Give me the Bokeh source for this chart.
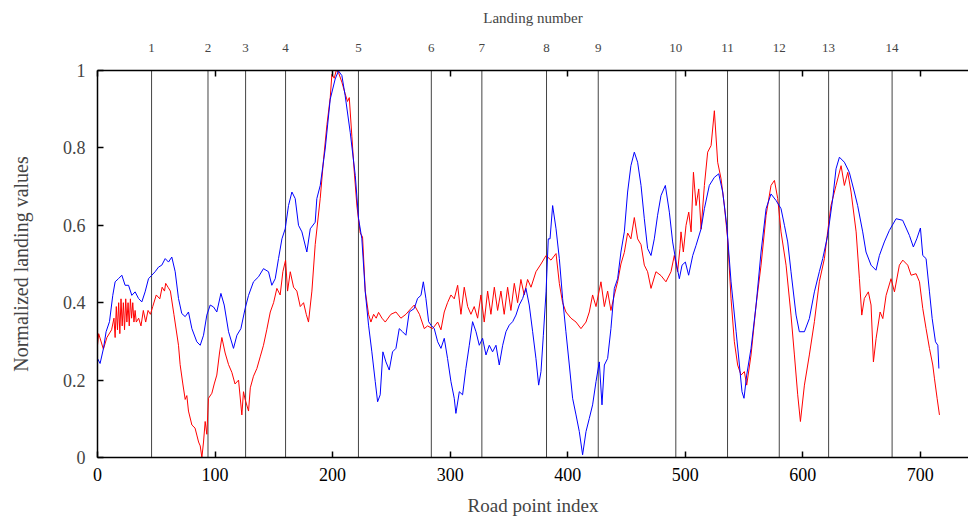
from bokeh.plotting import figure
from bokeh.models import Range1d, LinearAxis, FixedTicker
from bokeh.embed import file_html
from bokeh.resources import INLINE

# Landing positions (road point index) and labels
landing_x = [46, 94, 126, 160, 222, 284, 327, 382, 426, 492, 536, 580, 622, 676]
landing_labels = [str(i + 1) for i in range(len(landing_x))]

x_ticks = [0, 100, 200, 300, 400, 500, 600, 700]
y_ticks = [0, 0.2, 0.4, 0.6, 0.8, 1]
y_tick_labels = ["0", "0.2", "0.4", "0.6", "0.8", "1"]

red_x = [0, 1, 5, 8, 12, 14, 15, 16, 17, 18, 19, 20, 21, 22, 23, 24, 25, 26, 27, 28, 29, 30, 31, 32, 33,
         35, 37, 39, 41, 43, 45, 47, 50, 53, 55, 57, 58, 60, 62, 65, 68.9, 70.3, 72.6, 74.6, 76, 77.4,
         80.3, 83, 84.5, 86, 87.4, 88.8, 90.2, 91.6, 93, 94.4, 97.3, 99.3, 101.5, 103.8, 105.8, 108.6,
         111.5, 114.3, 117, 120, 122.8, 124.2, 125.6, 128.5, 130, 132.7, 135.6, 138.4, 141.2, 144, 147,
         149.8, 152.6, 155.4, 157.7, 160, 161.7, 164, 166.8, 169.6, 172.5, 175.3, 177.6, 179.5, 182.4,
         185.2, 189.5, 192.3, 195.2, 198, 199.4, 201.4, 203.1, 205, 207.9, 210.7, 212.7, 214.2, 216.4,
         218.4, 220.7, 223.5, 225.5, 227.8, 230.6, 232.6, 234.9, 237.1, 239.1, 242, 244.8,
         249.6, 253.9, 258.1, 262.4, 266.7, 269.5, 273.9, 278, 280.8, 285.1, 289.4, 292.2, 295, 297.8,
         300.7, 303.5, 306.4, 309.2, 312, 314.9, 317.7, 320.5, 323.4, 326.2, 329, 331.9, 334.7, 337.6,
         340.4, 343.2, 346, 348.9, 351.7, 354.6, 357.4, 360.2, 363, 365.9, 368.8, 373, 377.3, 381.6,
         385.8, 390.1, 392.9, 395.7, 398.5, 402.8, 407.1, 411.3, 415.6, 418.4, 421.2, 424.1, 428.3,
         431.2, 434, 436.8, 439.7, 442.5, 445.3, 448.2, 451, 453.8, 456.7, 459.5, 462.4, 465.2, 468,
         470.9, 475.1, 479.4, 483.6, 487.9, 490.7, 493.5,
         495.5, 496.4, 498.4, 500.7, 503, 505, 507, 509.2, 511.5, 513.5, 516.3, 519.1, 522, 524.8,
         527.6, 530.5, 533.3, 536.1, 539, 541.8, 544.6, 547.5, 550.3, 552.3, 556, 560.3, 564.5, 568.8,
         573, 575.9, 578.7, 581.5, 585.8, 590, 592.9, 595.7, 598, 601.4, 605.6, 609.9, 614.1, 618.4,
         621.2, 624, 628.3, 632.6, 635.4, 638.3, 641.1, 645.4, 648.2, 650.2, 652.4, 655.8, 658.1,
         660.1, 662.4, 665.8, 668.1, 670.9, 675.1, 678, 682.2, 685.1, 689.3, 692.2, 696.4, 699.3,
         702.1, 704.9, 707.8, 710.6, 712, 714.3, 716.3]
red_y = [0.29, 0.32, 0.28, 0.31, 0.33, 0.36, 0.31, 0.39, 0.33, 0.40, 0.32, 0.41, 0.34, 0.40, 0.33, 0.41,
         0.35, 0.40, 0.34, 0.41, 0.36, 0.40, 0.35, 0.38, 0.35,
         0.36, 0.34, 0.38, 0.35, 0.38, 0.37, 0.39, 0.42, 0.41, 0.44, 0.43, 0.45, 0.44, 0.43, 0.37, 0.29,
         0.24, 0.19, 0.15, 0.16, 0.12,
         0.084, 0.076, 0.058, 0.04, 0.03, 0.0, 0.04, 0.093, 0.06, 0.153, 0.166, 0.19, 0.213, 0.27, 0.31,
         0.27,
         0.24, 0.22, 0.19, 0.20, 0.11, 0.17, 0.15, 0.12, 0.18, 0.21, 0.23, 0.26, 0.29, 0.33, 0.376,
         0.40, 0.437, 0.42, 0.48, 0.51, 0.43, 0.48, 0.44, 0.43, 0.39, 0.40, 0.37, 0.35, 0.43,
         0.55, 0.67, 0.77, 0.86, 0.93, 0.99, 0.98, 1.0, 0.995, 0.97, 0.94, 0.92, 0.93, 0.83,
         0.74, 0.65, 0.58, 0.57, 0.43, 0.37, 0.35, 0.37, 0.36, 0.375, 0.36, 0.35,
         0.37, 0.376, 0.36, 0.37, 0.385, 0.394, 0.37, 0.333, 0.34, 0.333, 0.35, 0.33, 0.376, 0.40,
         0.42, 0.41, 0.445, 0.37, 0.44, 0.39, 0.37, 0.39, 0.36, 0.42, 0.35, 0.43, 0.37, 0.44,
         0.38, 0.43, 0.37, 0.44, 0.38, 0.45, 0.40, 0.46, 0.42, 0.46, 0.44, 0.48, 0.50, 0.522,
         0.51, 0.527, 0.45, 0.40, 0.376, 0.36, 0.35, 0.333, 0.35, 0.376, 0.42, 0.39, 0.454,
         0.39, 0.43, 0.38, 0.42, 0.454, 0.50, 0.53, 0.58, 0.565, 0.62, 0.565, 0.55, 0.497, 0.48,
         0.437, 0.48, 0.47, 0.454, 0.48, 0.522, 0.48,
         0.54, 0.583, 0.531, 0.60, 0.634, 0.583, 0.737, 0.651, 0.694, 0.59, 0.703, 0.789, 0.806, 0.896,
         0.763, 0.72, 0.651, 0.565, 0.41, 0.299, 0.239, 0.213, 0.222, 0.187, 0.265, 0.394, 0.497, 0.626,
         0.703, 0.716, 0.669, 0.583, 0.497, 0.368, 0.265, 0.162, 0.093, 0.187, 0.265, 0.351, 0.454, 0.514,
         0.583, 0.651, 0.703, 0.754, 0.703, 0.737, 0.686, 0.583, 0.462, 0.368, 0.411, 0.428, 0.394,
         0.247, 0.308, 0.376, 0.359, 0.419, 0.462, 0.428, 0.497, 0.51, 0.497, 0.471, 0.475, 0.454,
         0.385, 0.333, 0.282, 0.239, 0.205, 0.153, 0.11]

blue_x = [0, 2.2, 5.1, 7.3, 10.2, 13, 15, 17.8, 20.7, 23.5, 26.4, 29.2, 32, 34.9, 37.7, 40.5, 43.4,
          46.2, 49, 51.9, 54.7, 57.6, 60.4, 63.2, 66.1, 68.9, 71.7, 74.6, 77.4, 80.3, 84.5, 87.4, 90.2,
          93, 95.9, 98.7, 101.5, 105, 107.8, 111.5, 115.7, 118.6, 122, 125.6, 128.5, 132.7, 137, 141.2,
          145.5, 148.3, 151.2, 154, 156.9, 159.7, 162.5, 165.4, 168.2, 171, 173.9, 178.1, 181, 185.2,
          186.6, 189.5, 193.7, 198, 202.2, 205, 207.9, 210.7, 215, 219.3, 222.1, 224.9, 227.8, 230.6,
          233.4, 236.3, 238.3, 240.5, 242.8, 245.4,
          248.2, 251, 253.9, 256.7, 259.5, 262.4, 265.2, 269.5, 272.3, 275.2, 277.2, 279.4, 281.7,
          283.7, 286.5, 289.4, 292.2, 295, 297.8, 300.7, 303.5, 304.9, 307.8, 310.6, 313.4, 316.3,
          319.1, 322, 324.8, 327.6, 330.5, 333.3, 336.1, 339, 341.8, 344.7, 347.5, 350.3, 353.2, 356,
          358.8, 361.7, 364.5, 367.3, 370.2, 373, 375.3, 377.3, 379.3, 381.6, 383.5, 385, 387.2, 390.1,
          392.9, 395.7, 398.5, 401.4, 404.2, 407.1, 409.9, 412.7, 415.6, 418.4, 421.2, 424.1, 426.9,
          429.2, 431.2, 434, 436.8, 439.7, 442.5, 445.3, 448.2, 451, 453.8, 456.7, 459.5, 462.4, 465.2,
          468, 470.9, 473.7, 476.5, 479.4, 483.1, 486.5, 489.3, 492.2, 495,
          497.3, 500.1, 502.9, 506.4, 509.2, 513.5, 516.3, 520.5, 524.8, 528.5, 531.9, 535.3, 539,
          543.3, 546.1, 548.3, 550, 552.3, 556, 560.3, 564.5, 568.8, 573, 577.3, 581.5, 584.4, 587.2,
          590, 594.3, 597.1, 601.4, 605.6, 609.9, 614.1, 617, 621.2, 625.5, 628.3, 631.2, 635.4, 639.6,
          643.9, 646.7, 651, 653.8, 658.1, 662.3, 665.2, 669.4, 673.7, 679.4, 685, 690.7, 694.1, 697,
          700.1, 702.1, 704.9, 707.8, 710.1, 712.9, 714.9, 715.8]
blue_y = [0.256, 0.243, 0.282, 0.325, 0.351, 0.419, 0.454, 0.462, 0.471, 0.445, 0.445, 0.419, 0.428,
          0.411, 0.402, 0.428, 0.462, 0.471, 0.480, 0.492, 0.497, 0.514, 0.505, 0.518, 0.480, 0.411,
          0.372, 0.364, 0.376, 0.333, 0.299, 0.290, 0.316, 0.368, 0.394, 0.389, 0.376, 0.424, 0.394,
          0.325, 0.282, 0.316, 0.333, 0.385, 0.419, 0.454, 0.467, 0.488, 0.480, 0.445, 0.462, 0.514,
          0.565, 0.591, 0.651, 0.686, 0.669, 0.600, 0.583, 0.531, 0.591, 0.608, 0.669, 0.703, 0.797,
          0.926, 0.978, 0.999, 0.987, 0.935, 0.840, 0.729, 0.617, 0.565, 0.428, 0.342, 0.273, 0.196,
          0.144, 0.162, 0.273, 0.247,
          0.226, 0.273, 0.282, 0.333, 0.325, 0.316, 0.376, 0.385, 0.411, 0.419, 0.454, 0.411, 0.351,
          0.342, 0.333, 0.299, 0.282, 0.308, 0.256, 0.196, 0.153, 0.114, 0.170, 0.162, 0.230, 0.290,
          0.351, 0.325, 0.290, 0.308, 0.265, 0.290, 0.273, 0.290, 0.239, 0.290, 0.325, 0.342, 0.351,
          0.368, 0.394, 0.411, 0.437, 0.394, 0.325, 0.256, 0.187, 0.222, 0.316, 0.428, 0.565, 0.565,
          0.651, 0.591, 0.514, 0.411, 0.325, 0.239, 0.153, 0.110, 0.067, 0.007, 0.067, 0.101, 0.136,
          0.196, 0.247, 0.136, 0.239, 0.256, 0.333, 0.437, 0.462, 0.531, 0.583, 0.686, 0.754, 0.789,
          0.763, 0.703, 0.617, 0.540, 0.522, 0.565, 0.626, 0.677, 0.703, 0.634, 0.557, 0.505, 0.462,
          0.497, 0.505, 0.471, 0.522, 0.548, 0.591, 0.643, 0.703, 0.724, 0.733, 0.686, 0.600, 0.454,
          0.325, 0.239, 0.170, 0.153, 0.213, 0.282, 0.394, 0.531, 0.643, 0.681, 0.664, 0.643, 0.600,
          0.557, 0.480, 0.368, 0.325, 0.325, 0.359, 0.428, 0.480, 0.514, 0.574, 0.669, 0.746, 0.776,
          0.763, 0.737, 0.686, 0.651, 0.583, 0.531, 0.497, 0.484, 0.522, 0.557, 0.587, 0.617, 0.613,
          0.574, 0.544, 0.565, 0.593, 0.522, 0.514, 0.428, 0.359, 0.299, 0.290, 0.230]

FONT = "Liberation Serif"

p = figure(width=968, height=518, output_backend="svg", toolbar_location=None,
           x_range=Range1d(0, 741), y_range=Range1d(0, 1),
           min_border_left=97, min_border_right=0, min_border_top=70, min_border_bottom=60,
           x_axis_location="below")
p.outline_line_color = None
p.grid.visible = False
p.background_fill_color = "white"
p.border_fill_color = "white"

# vertical landing lines
p.segment(x0=landing_x, x1=landing_x, y0=[0] * len(landing_x), y1=[1] * len(landing_x),
          line_color="#444444", line_width=1)

p.line(red_x, red_y, line_color="#ff0000", line_width=1)
p.line(blue_x, blue_y, line_color="#0000ff", line_width=1)

xa = p.xaxis[0]
xa.ticker = FixedTicker(ticks=x_ticks)
xa.major_tick_in = 6
xa.major_tick_out = 0
xa.minor_tick_in = 0
xa.minor_tick_out = 0
xa.axis_line_width = 1.5
xa.major_tick_line_width = 1.5
xa.major_label_text_font = FONT
xa.major_label_text_font_size = "18px"
xa.major_label_text_color = "black"
xa.major_label_standoff = 10
xa.axis_label = "Road point index"
xa.axis_label_text_font = FONT
xa.axis_label_text_font_size = "19px"
xa.axis_label_text_font_style = "normal"
xa.axis_label_standoff = 11

ya = p.yaxis[0]
ya.ticker = FixedTicker(ticks=y_ticks)
ya.major_label_overrides = {t: s for t, s in zip(y_ticks, y_tick_labels)}
ya.major_tick_in = 6
ya.major_tick_out = 0
ya.minor_tick_in = 0
ya.minor_tick_out = 0
ya.axis_line_width = 1.5
ya.major_tick_line_width = 1.5
ya.major_label_text_font = FONT
ya.major_label_text_font_size = "18px"
ya.major_label_standoff = 12
ya.axis_label = "Normalized landing values"
ya.axis_label_text_font = FONT
ya.axis_label_text_font_size = "20px"
ya.axis_label_text_font_style = "normal"
ya.axis_label_standoff = 28

top = LinearAxis(ticker=FixedTicker(ticks=landing_x, minor_ticks=x_ticks))
top.major_label_overrides = {t: s for t, s in zip(landing_x, landing_labels)}
top.major_tick_in = 0
top.major_tick_out = 0
top.minor_tick_in = 6
top.minor_tick_out = 0
top.minor_tick_line_width = 1.5
top.axis_line_width = 1.5
top.major_label_text_font = FONT
top.major_label_text_font_size = "13px"
top.major_label_standoff = 19
top.axis_label = "Landing number"
top.axis_label_text_font = FONT
top.axis_label_text_font_size = "15px"
top.axis_label_text_font_style = "normal"
top.axis_label_standoff = 15
p.add_layout(top, "above")

open("out.html", "w").write(file_html(p, INLINE))
